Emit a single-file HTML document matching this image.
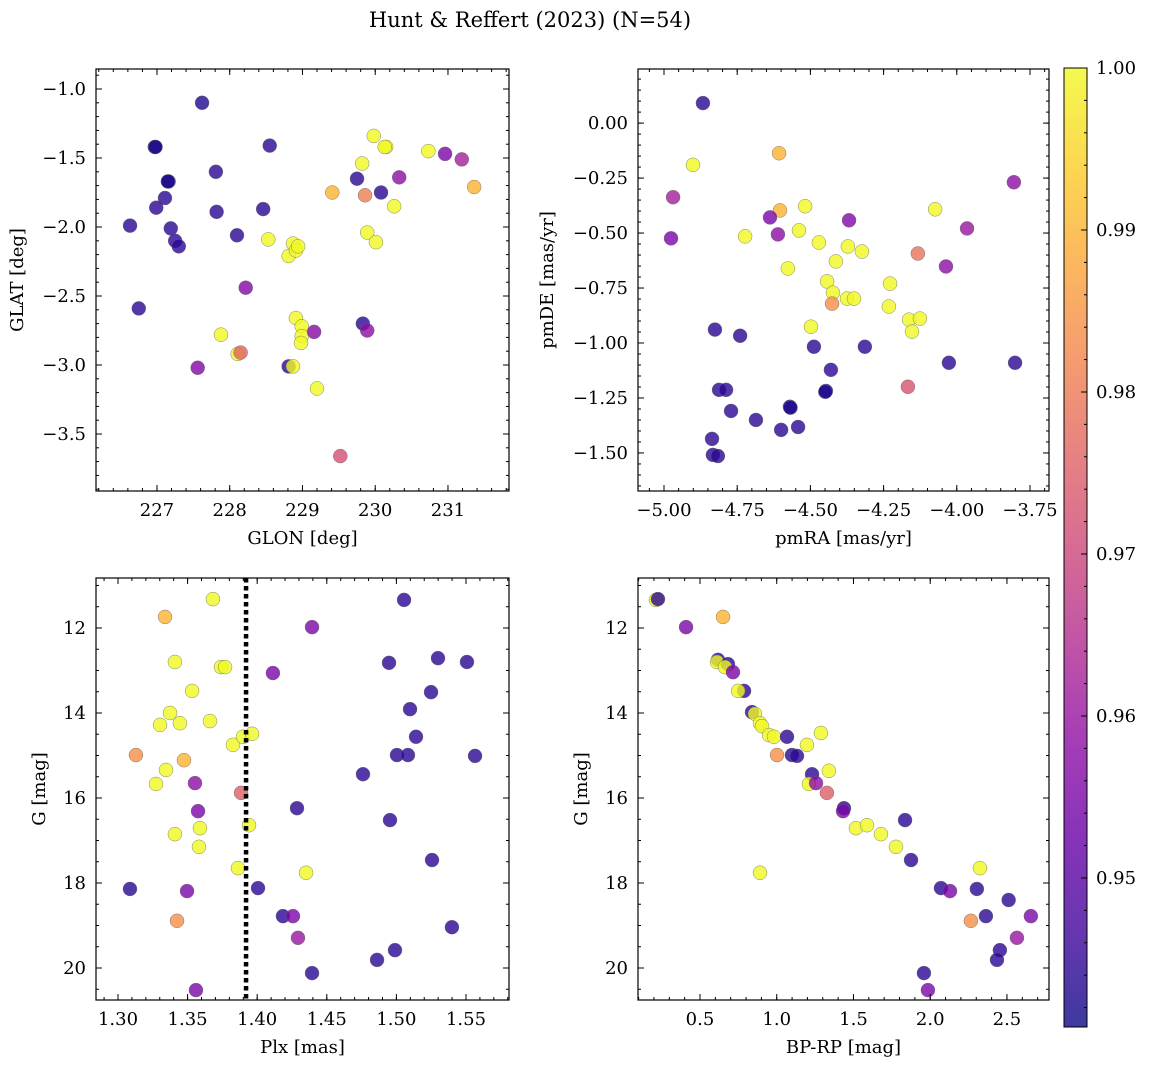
<!DOCTYPE html>
<html><head><meta charset="utf-8">
<style>
body{margin:0;background:#fff;}
svg{display:block;font-family:"DejaVu Serif","Liberation Serif",serif;}
</style></head>
<body>
<svg id="fig" width="1149" height="1068" viewBox="0 0 1149 1068" xmlns="http://www.w3.org/2000/svg">
<text x="530" y="27" font-size="21" text-anchor="middle">Hunt &amp; Reffert (2023) (N=54)</text>
</svg>
<script>
// ---- Panel 1: GLON vs GLAT ----
const p1_glon = [227.62,226.97,226.98,226.63,226.75,227.16,227.15,227.11,226.99,227.19,227.25,227.30,227.81,227.82,228.10,228.46,228.55,227.56,228.22,227.88,228.11,228.15,228.53,228.81,228.87,228.91,228.94,228.81,228.87,228.91,228.99,228.99,228.98,229.16,229.20,229.52,229.41,229.75,229.82,229.86,229.98,230.15,230.13,230.08,230.33,230.26,229.89,230.01,229.83,229.89,230.73,230.96,231.19,231.36];
const p1_glat = [-1.10,-1.42,-1.42,-1.99,-2.59,-1.67,-1.67,-1.79,-1.86,-2.01,-2.10,-2.14,-1.60,-1.89,-2.06,-1.87,-1.41,-3.02,-2.44,-2.78,-2.92,-2.91,-2.09,-2.21,-2.12,-2.17,-2.14,-3.01,-3.01,-2.66,-2.72,-2.79,-2.84,-2.76,-3.17,-3.66,-1.75,-1.65,-1.54,-1.77,-1.34,-1.42,-1.42,-1.75,-1.64,-1.85,-2.04,-2.11,-2.70,-2.75,-1.45,-1.47,-1.51,-1.71];
const p1_prob = [0.943,0.942,0.942,0.944,0.944,0.942,0.942,0.944,0.944,0.944,0.944,0.944,0.944,0.944,0.944,0.944,0.944,0.956,0.956,1.0,1.0,0.976,1.0,1.0,1.0,1.0,1.0,0.944,1.0,1.0,1.0,1.0,1.0,0.957,1.0,0.972,0.99,0.944,1.0,0.981,1.0,1.0,1.0,0.944,0.958,1.0,1.0,1.0,0.944,0.958,1.0,0.955,0.962,0.99];
// ---- Panel 2: pmRA vs pmDE ----
const p2_pmra = [-4.867,-4.901,-4.969,-4.976,-4.607,-4.604,-4.638,-4.611,-4.723,-4.518,-4.539,-4.577,-4.471,-4.368,-4.413,-4.443,-4.423,-4.372,-4.324,-4.375,-4.351,-4.426,-4.498,-4.228,-4.232,-4.133,-4.074,-4.037,-3.965,-3.805,-4.163,-4.126,-4.153,-4.167,-4.826,-4.740,-4.488,-4.314,-4.430,-4.027,-3.801,-4.812,-4.788,-4.447,-4.771,-4.686,-4.570,-4.568,-4.600,-4.542,-4.836,-4.833,-4.816,-4.449];
const p2_pmde = [0.091,-0.190,-0.337,-0.524,-0.137,-0.397,-0.429,-0.506,-0.515,-0.378,-0.488,-0.661,-0.543,-0.442,-0.629,-0.720,-0.771,-0.561,-0.584,-0.798,-0.798,-0.821,-0.926,-0.730,-0.834,-0.593,-0.392,-0.652,-0.479,-0.269,-0.894,-0.889,-0.948,-1.199,-0.939,-0.967,-1.017,-1.017,-1.122,-1.090,-1.090,-1.213,-1.213,-1.218,-1.309,-1.350,-1.290,-1.294,-1.395,-1.382,-1.436,-1.509,-1.514,-1.222];
const p2_prob = [0.944,1.0,0.962,0.955,0.99,0.99,0.955,0.958,1.0,1.0,1.0,1.0,1.0,0.956,1.0,1.0,1.0,1.0,1.0,1.0,1.0,0.984,1.0,1.0,1.0,0.979,1.0,0.958,0.96,0.958,1.0,1.0,1.0,0.973,0.944,0.944,0.944,0.944,0.944,0.944,0.944,0.944,0.944,0.944,0.944,0.944,0.944,0.942,0.944,0.944,0.944,0.944,0.944,0.942];
// ---- Panel 3: Plx vs G ----
const p3_plx = [1.3338,1.3682,1.3409,1.3740,1.3769,1.3532,1.3302,1.3374,1.3445,1.3661,1.3826,1.3898,1.3963,1.3129,1.3474,1.3345,1.3273,1.3553,1.3884,1.3941,1.3575,1.3589,1.3409,1.3582,1.3862,1.4351,1.3086,1.3496,1.4006,1.4185,1.4257,1.4293,1.3424,1.3560,1.4394,1.4113,1.4394,1.5055,1.4947,1.5299,1.5507,1.5249,1.5098,1.5141,1.5004,1.5083,1.5565,1.4760,1.4286,1.4954,1.5256,1.5399,1.4990,1.4861];
const p3_g = [11.74,11.32,12.80,12.92,12.92,13.48,14.28,14.00,14.24,14.19,14.75,14.56,14.49,14.99,15.11,15.34,15.67,15.65,15.88,16.64,16.31,16.71,16.85,17.15,17.65,17.76,18.14,18.19,18.12,18.78,18.78,19.29,18.89,20.52,20.12,13.06,11.98,11.34,12.82,12.71,12.80,13.51,13.91,14.56,14.99,14.99,15.01,15.44,16.24,16.52,17.46,19.04,19.58,19.81];
const p3_prob = [0.99,1.0,1.0,1.0,1.0,1.0,1.0,1.0,1.0,1.0,1.0,1.0,1.0,0.984,0.99,1.0,1.0,0.958,0.975,1.0,0.955,1.0,1.0,1.0,1.0,1.0,0.944,0.955,0.944,0.944,0.955,0.96,0.984,0.955,0.944,0.955,0.955,0.944,0.944,0.944,0.944,0.944,0.944,0.944,0.944,0.944,0.944,0.944,0.944,0.944,0.944,0.944,0.944,0.944];
const p3_cut = 1.392;
// ---- Panel 4: BP-RP vs G ----
const p4_bprp = [0.213,0.226,0.409,0.650,0.617,0.611,0.682,0.663,0.715,0.787,0.748,0.839,0.858,0.891,0.904,0.950,0.982,1.067,1.002,1.099,1.132,1.197,1.288,1.340,1.230,1.210,1.256,1.327,1.438,1.432,1.516,1.588,1.679,1.777,1.836,1.875,0.891,2.324,2.070,2.129,2.304,2.511,2.363,2.656,2.265,2.565,2.454,2.435,1.959,1.985];
const p4_g = [11.34,11.32,11.98,11.74,12.75,12.80,12.85,12.92,13.04,13.48,13.48,13.98,14.02,14.24,14.31,14.52,14.56,14.56,14.99,14.99,15.01,14.75,14.47,15.36,15.44,15.67,15.65,15.88,16.24,16.31,16.71,16.64,16.85,17.15,16.52,17.46,17.76,17.65,18.12,18.19,18.14,18.40,18.78,18.78,18.89,19.29,19.58,19.81,20.12,20.52];
const p4_prob = [1.0,0.944,0.955,0.99,0.944,1.0,0.944,1.0,0.955,0.944,1.0,0.944,1.0,1.0,1.0,1.0,1.0,0.944,0.984,0.944,0.944,1.0,1.0,1.0,0.944,1.0,0.958,0.975,0.944,0.955,1.0,1.0,1.0,1.0,0.944,0.944,1.0,1.0,0.944,0.955,0.944,0.944,0.944,0.955,0.984,0.96,0.944,0.944,0.944,0.955];
// ---- Colorbar ----
const cb_ticks = [0.95,0.96,0.97,0.98,0.99,1.00];
const cb_min = 0.9408, cb_max = 1.0;

const NS="http://www.w3.org/2000/svg";
const svg=document.getElementById('fig');
function el(tag,attrs,parent){const e=document.createElementNS(NS,tag);for(const k in attrs)e.setAttribute(k,attrs[k]);(parent||svg).appendChild(e);return e;}
const stops=['#0d0887','#41049d','#6a00a8','#8f0da4','#b12a90','#cc4778','#e16462','#f2844b','#fca636','#fcce25','#f0f921'];
function hex(h){return [1,3,5].map(i=>parseInt(h.substr(i,2),16));}
function plasma(p){let t=(p-cb_min)/(cb_max-cb_min);t=Math.max(0,Math.min(1,t));const f=t*10;const i=Math.min(9,Math.floor(f));const r=f-i;const a=hex(stops[i]),b=hex(stops[i+1]);return 'rgb('+a.map((v,k)=>Math.round(v+(b[k]-v)*r)).join(',')+')';}
function fmt(v,d){return (v<0?'\u2212':'')+Math.abs(v).toFixed(d);}
const FS=18;

function panel(cfg){
  const g=el('g',{});
  
  
  const {x0,x1,y0,y1}=cfg.box;
  const sx=v=>x0+(v-cfg.xd[0])/(cfg.xd[1]-cfg.xd[0])*(x1-x0);
  const sy=v=>cfg.yinv? y0+(v-cfg.yd[0])/(cfg.yd[1]-cfg.yd[0])*(y1-y0) : y1-(v-cfg.yd[0])/(cfg.yd[1]-cfg.yd[0])*(y1-y0);
  const pts=el('g',{},g);
  
  
  for(let i=0;i<cfg.xs.length;i++){
    const c=el('circle',{cx:sx(cfg.xs[i]),cy:sy(cfg.ys[i]),r:7,fill:plasma(cfg.ps[i]),'fill-opacity':0.8,stroke:'#666','stroke-width':0.4},pts);
    
    
  }
  if(cfg.vline!==undefined){
    const l=el('line',{x1:sx(cfg.vline),x2:sx(cfg.vline),y1:y0,y2:y1,stroke:'#000','stroke-width':4.5,'stroke-dasharray':'4.5,3.5'},g);
    
    
  }
  const fr=el('rect',{x:x0,y:y0,width:x1-x0,height:y1-y0,fill:'none',stroke:'#000','stroke-width':1.2},g);
  
  
  const eps=1e-9;
  function range(a,b,s){const out=[];let v=Math.ceil((a-eps)/s)*s;for(;v<=b+eps;v+=s)out.push(+v.toFixed(6));return out;}
  range(cfg.xd[0],cfg.xd[1],cfg.xminor).forEach(v=>{const X=sx(v);el('line',{x1:X,x2:X,y1:y1,y2:y1-3,stroke:'#000'},g);el('line',{x1:X,x2:X,y1:y0,y2:y0+3,stroke:'#000'},g);});
  range(Math.min(...cfg.yd),Math.max(...cfg.yd),cfg.yminor).forEach(v=>{const Y=sy(v);el('line',{x1:x0,x2:x0+3,y1:Y,y2:Y,stroke:'#000'},g);el('line',{x1:x1,x2:x1-3,y1:Y,y2:Y,stroke:'#000'},g);});
  cfg.xticks.forEach(v=>{const X=sx(v);el('line',{x1:X,x2:X,y1:y1,y2:y1-6,stroke:'#000'},g);el('line',{x1:X,x2:X,y1:y0,y2:y0+6,stroke:'#000'},g);
    const t=el('text',{x:X,y:y1+25,'font-size':FS,'text-anchor':'middle'},g);t.textContent=fmt(v,cfg.xdec);
    
    });
  cfg.yticks.forEach(v=>{const Y=sy(v);el('line',{x1:x0,x2:x0+6,y1:Y,y2:Y,stroke:'#000'},g);el('line',{x1:x1,x2:x1-6,y1:Y,y2:Y,stroke:'#000'},g);
    const t=el('text',{x:x0-10,y:Y+6,'font-size':FS,'text-anchor':'end'},g);t.textContent=fmt(v,cfg.ydec);
    
    });
  const xl=el('text',{x:(x0+x1)/2,y:y1+53,'font-size':FS,'text-anchor':'middle'},g);xl.textContent=cfg.xlabel;
  
  
  const yl=el('text',{x:cfg.ylx,y:(y0+y1)/2,'font-size':FS,'text-anchor':'middle',transform:`rotate(-90 ${cfg.ylx} ${(y0+y1)/2})`},g);yl.textContent=cfg.ylabel;
  
  
}
panel({name:'panel-glon-glat',box:{x0:96,x1:509,y0:69,y1:491},xd:[226.162,231.839],yd:[-3.913,-0.855],xs:p1_glon,ys:p1_glat,ps:p1_prob,
  xticks:[227,228,229,230,231],xdec:0,xminor:0.2,yticks:[-1.0,-1.5,-2.0,-2.5,-3.0,-3.5],ydec:1,yminor:0.1,xlabel:'GLON [deg]',ylabel:'GLAT [deg]',ylx:23});
panel({name:'panel-pmra-pmde',box:{x0:638,x1:1049,y0:69,y1:491},xd:[-5.0888,-3.6851],yd:[-1.673,0.246],xs:p2_pmra,ys:p2_pmde,ps:p2_prob,
  xticks:[-5.0,-4.75,-4.5,-4.25,-4.0,-3.75],xdec:2,xminor:0.05,yticks:[0,-0.25,-0.5,-0.75,-1.0,-1.25,-1.5],ydec:2,yminor:0.05,xlabel:'pmRA [mas/yr]',ylabel:'pmDE [mas/yr]',ylx:553});
panel({name:'panel-plx-g',box:{x0:96,x1:509,y0:578,y1:1000},xd:[1.2842,1.5809],yd:[10.824,20.753],yinv:true,xs:p3_plx,ys:p3_g,ps:p3_prob,vline:p3_cut,
  xticks:[1.30,1.35,1.40,1.45,1.50,1.55],xdec:2,xminor:0.01,yticks:[12,14,16,18,20],ydec:0,yminor:0.5,xlabel:'Plx [mas]',ylabel:'G [mag]',ylx:45});
panel({name:'panel-bprp-g',box:{x0:638,x1:1049,y0:578,y1:1000},xd:[0.096,2.774],yd:[10.824,20.753],yinv:true,xs:p4_bprp,ys:p4_g,ps:p4_prob,
  xticks:[0.5,1.0,1.5,2.0,2.5],xdec:1,xminor:0.1,yticks:[12,14,16,18,20],ydec:0,yminor:0.5,xlabel:'BP-RP [mag]',ylabel:'G [mag]',ylx:587});

(function(){
  const cb=el('g',{});
  
  
  const x0=1064,x1=1087,y0=68,y1=1027;
  const defs=el('defs',{},cb);
  const lg=el('linearGradient',{id:'cbg',x1:0,y1:1,x2:0,y2:0},defs);
  stops.forEach((s,i)=>el('stop',{offset:(i/10),'stop-color':s,'stop-opacity':0.8},lg));
  el('rect',{x:x0,y:y0,width:x1-x0,height:y1-y0,fill:'url(#cbg)',stroke:'#000','stroke-width':1},cb);
  const sy=v=>y1-(v-cb_min)/(cb_max-cb_min)*(y1-y0);
  for(let v=0.942;v<1.0;v+=0.002){const Y=sy(v);el('line',{x1:x1,x2:x1-3,y1:Y,y2:Y,stroke:'#000'},cb);}
  cb_ticks.forEach(v=>{const Y=sy(v);el('line',{x1:x1,x2:x1-6,y1:Y,y2:Y,stroke:'#000'},cb);
    const t=el('text',{x:x1+9,y:Y+6,'font-size':FS},cb);t.textContent=v.toFixed(2);
    
    });
})();
</script>
</body></html>
